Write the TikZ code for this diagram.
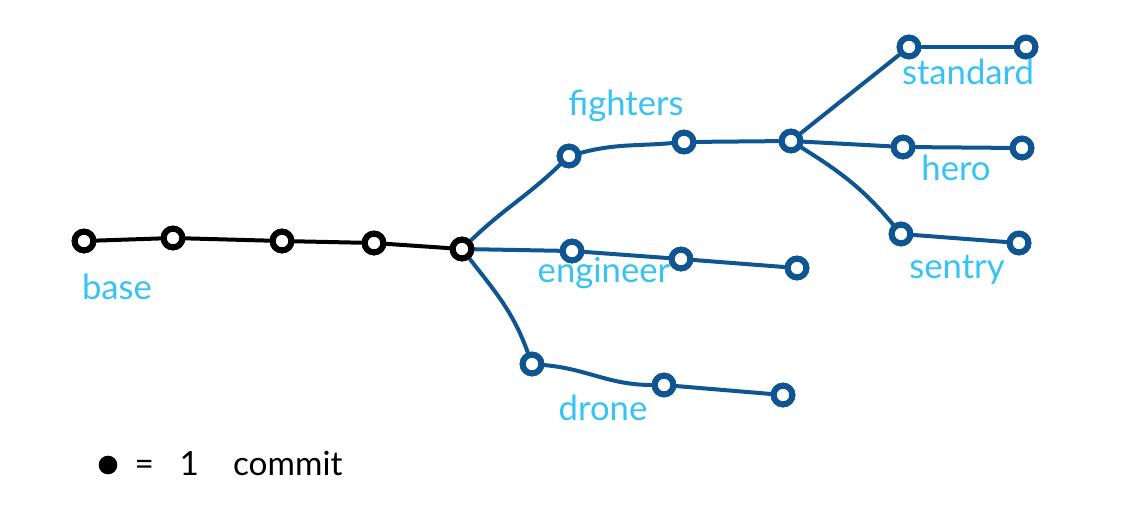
\documentclass[tikz,border=0pt]{standalone}
\usepackage{fontspec}
\setmainfont{Lato}
\definecolor{branch}{HTML}{0E5591}
\definecolor{lbl}{HTML}{35C2F5}
\begin{document}
\begin{tikzpicture}[x=0.75pt,y=-0.75pt,
  commit/.style={circle,draw=#1,line width=4.5pt,inner sep=0pt,minimum size=14pt,fill=white},
  bcommit/.style={commit=black},
  ccommit/.style={commit=branch},
  edgeb/.style={draw=black,line width=3pt,line cap=round},
  edgec/.style={draw=branch,line width=3pt,line cap=round},
  label/.style={text=lbl,font=\fontsize{26}{28}\selectfont},
  legend/.style={text=black,font=\fontsize{25}{28}\selectfont}]
\useasboundingbox (0,0) rectangle (1123,526);
% base
\node[bcommit] (b1) at (84,241) {};
\node[bcommit] (b2) at (173,238) {};
\node[bcommit] (b3) at (282,241) {};
\node[bcommit] (b4) at (374,243) {};
\node[bcommit] (m) at (462,249) {};
% fighters
\node[ccommit] (f1) at (569,156) {};
\node[ccommit] (f2) at (684,142) {};
\node[ccommit] (f3) at (791,141) {};
\node[ccommit] (s1) at (909,47) {};
\node[ccommit] (s2) at (1026,47) {};
\node[ccommit] (h1) at (903,147) {};
\node[ccommit] (h2) at (1022,148) {};
\node[ccommit] (y1) at (901,234) {};
\node[ccommit] (y2) at (1019,243) {};
% engineer
\node[ccommit] (e1) at (572,251) {};
\node[ccommit] (e2) at (681,259) {};
\node[ccommit] (e3) at (797,268) {};
% drone
\node[ccommit] (d1) at (532,364) {};
\node[ccommit] (d2) at (664,385) {};
\node[ccommit] (d3) at (783,395) {};
% edges
\draw[edgeb] (b1) -- (b2);
\draw[edgeb] (b2) -- (b3);
\draw[edgeb] (b3) -- (b4);
\draw[edgeb] (b4) -- (m);
\draw[edgec] (m) to[out=44,in=-136] (f1);
\draw[edgec] (f1) to[out=15,in=185] (f2);
\draw[edgec] (f2) -- (f3);
\draw[edgec] (f3) -- (s1);
\draw[edgec] (s1) -- (s2);
\draw[edgec] (f3) -- (h1);
\draw[edgec] (h1) -- (h2);
\draw[edgec] (f3) to[out=-32,in=130] (y1);
\draw[edgec] (y1) -- (y2);
\draw[edgec] (m) -- (e1);
\draw[edgec] (e1) -- (e2);
\draw[edgec] (e2) -- (e3);
\draw[edgec] (m) to[out=-52,in=110] (d1);
\draw[edgec] (d1) to[out=-5,in=180] (d2);
\draw[edgec] (d2) -- (d3);
% redraw commits on top
\foreach \n in {b1,b2,b3,b4,m}{\node[bcommit] at (\n) {};}
\foreach \n in {f1,f2,f3,s1,s2,h1,h2,y1,y2,e1,e2,e3,d1,d2,d3}{\node[ccommit] at (\n) {};}
% labels
\node[label] (lbase) at (117,287) {base};
\node[label] (lfight) at (626,106) {fighters};
\node[label] (leng) at (604,273) {engineer};
\node[label] (ldrone) at (603,408) {drone};
\node[label] (lstd) at (968,72) {standard};
\node[label] (lhero) at (956,168) {hero};
\node[label] (lsentry) at (957,270) {sentry};
% legend
\node[circle,fill=black,inner sep=0pt,minimum size=14pt] (ldot) at (108,465) {};
\node[legend,anchor=west] (ltext) at (130,463) {=\ \ \ 1\ \ \ \ commit};
\end{tikzpicture}
\end{document}
